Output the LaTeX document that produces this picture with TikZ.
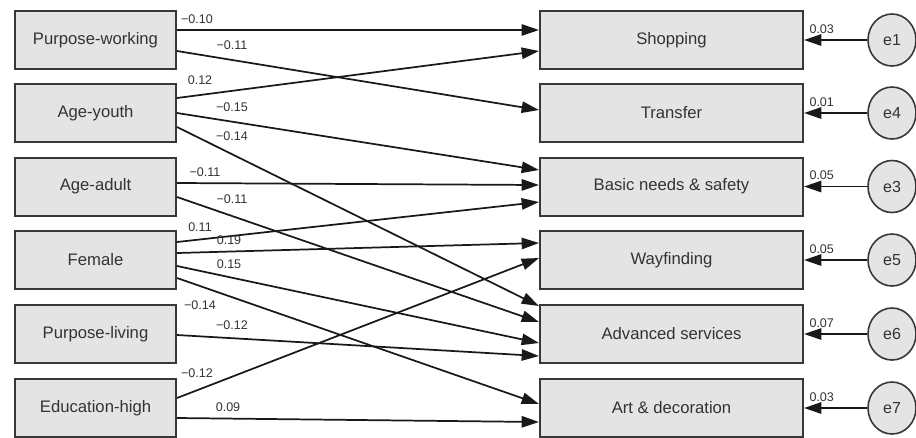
\documentclass[tikz,border=0pt]{standalone}
\usepackage{fontspec}
\setmainfont{Liberation Sans}
\usetikzlibrary{calc,arrows.meta,shapes.geometric}
\definecolor{boxgray}{HTML}{E4E4E4}
\definecolor{edgegray}{HTML}{383838}
\definecolor{txtgray}{HTML}{333333}

\begin{document}
\begin{tikzpicture}[x=0.75pt,y=-0.75pt]

        \tikzstyle{var}=[draw=edgegray,line width=1.5pt,fill=boxgray,rectangle,minimum height=43.5pt,inner sep=0pt,text=txtgray,font=\fontsize{12.5}{14}\selectfont]
        \tikzstyle{err}=[draw=edgegray,line width=1.2pt,fill=boxgray,ellipse,minimum width=36pt,minimum height=39pt,inner sep=0pt,text=txtgray,font=\fontsize{12}{14}\selectfont]
        \tikzstyle{effect}=[draw=black!90,line width=1.3pt,-{Triangle[length=13pt,width=8.5pt]}]
        \tikzstyle{coef}=[inner sep=0pt,text=txtgray,font=\fontsize{9.4}{11}\selectfont]

        \useasboundingbox (0,0) rectangle (916,437);

        \foreach \y / \x / \t in {40/pw/Purpose-working,113/ay/Age-youth,186.5/aa/Age-adult,260/fe/Female,334/pl/Purpose-living,408/eh/Education-high} {
            \node[var,minimum width=120.75pt] (\x) at (95.5,\y) {\t};
        }

        \foreach \y / \x / \t / \e / \r in {40/sh/Shopping/1/0.03,113/tr/Transfer/4/0.01,186.5/bn/Basic needs \& safety/3/0.05,260/wf/Wayfinding/5/0.05,334/as/Advanced services/6/0.07,408/ad/Art \& decoration/7/0.03} {
            \node[var,minimum width=197.25pt] (\x) at (671.5,\y) {\t};
            \node[err] (e\e) at (892,\y) {e\e};
            \draw[effect] (e\e) -- (\x) node[coef,pos=1,anchor=south west,xshift=3.5pt,yshift=4.5pt] (r_\e) {\r};
        }

        \foreach \s / \ds / \t / \dt / \lx / \ly / \w in {pw/-10/sh/-10/197/19/−0.10,pw/11/tr/-3/232/45/−0.11,ay/-15/sh/11/200/80/0.12,ay/0/bn/-16.5/232/107/−0.15,ay/14/as/-28/232/136/−0.14,aa/-3.5/bn/-1.5/205/172/−0.11,aa/10.5/as/-12/232/199/−0.11,fe/-18/bn/15.5/200/227/0.11,fe/-7/wf/-17/229/240/0.19,fe/6/as/9/229/264/0.15,fe/18/ad/-4/200/305/−0.14,pl/1/as/22/232/325/−0.12,eh/-10/wf/-2/197/373/−0.12,eh/10/ad/14/228/407/0.09} {
            \draw[effect] ($(\s.east)+(0,\ds)$) -- ($(\t.west)+(0,\dt)$);
            \node[coef] (c_\s\t) at (\lx,\ly) {\w};
        }

    \end{tikzpicture}
\end{document}
